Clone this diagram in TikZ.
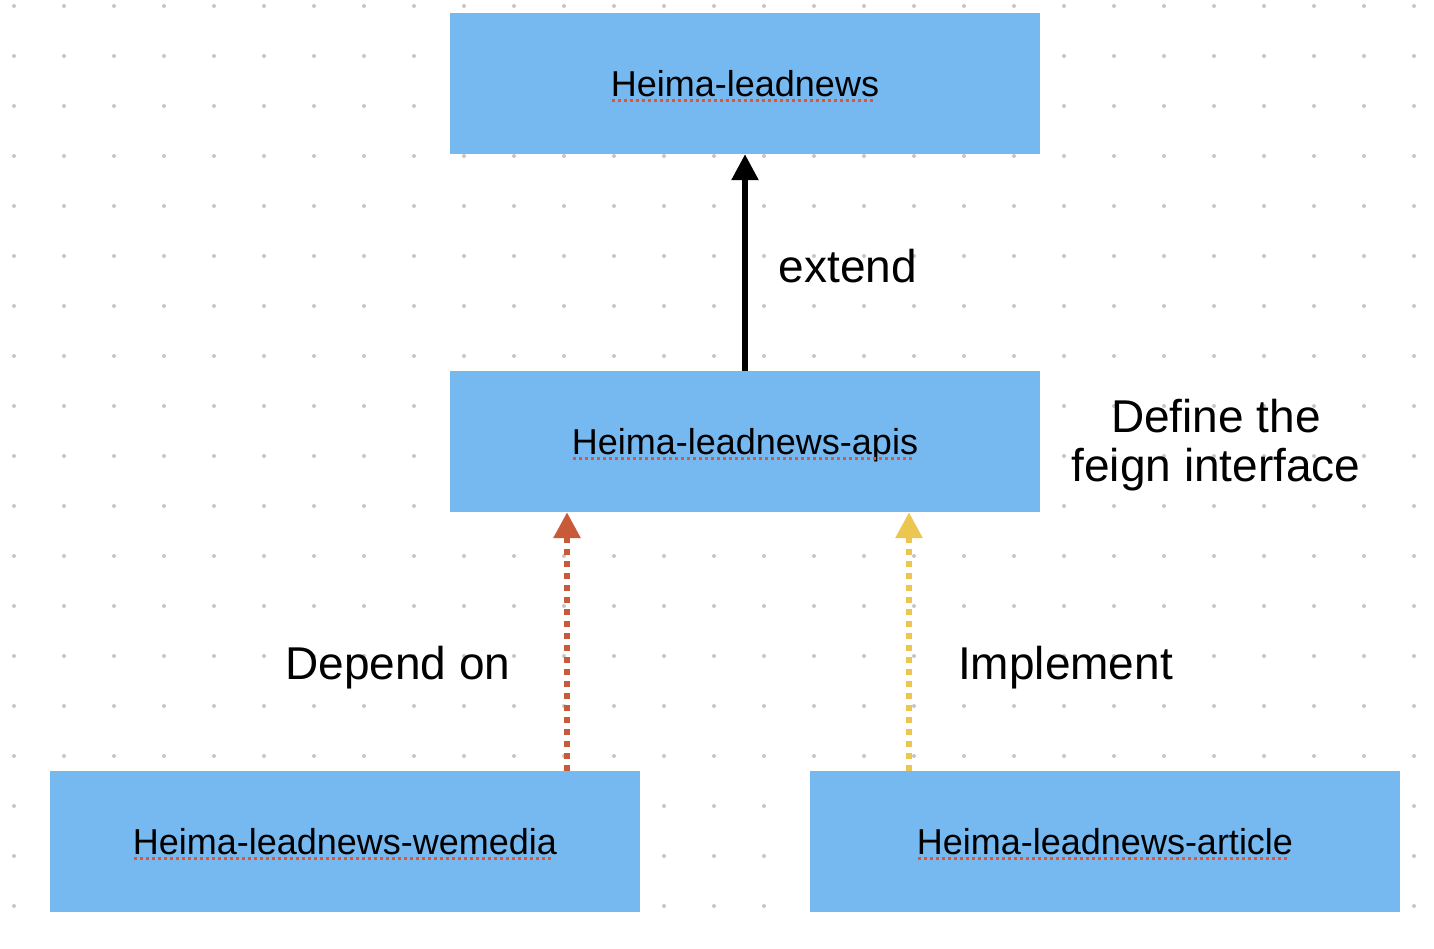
\documentclass[tikz,border=0pt]{standalone}
\usepackage{fontspec}
\setmainfont{Liberation Sans}
\usepackage{tikz}
\usetikzlibrary{arrows.meta}

\definecolor{boxblue}{HTML}{76B8F0}
\definecolor{depred}{HTML}{C85A3A}
\definecolor{implyellow}{HTML}{EBC751}
\definecolor{griddot}{HTML}{C6C6C6}
\definecolor{spellred}{HTML}{D9583B}

% red dotted mark under a word
\newcommand{\spellmark}[1]{\setbox0=\hbox{#1}\rlap{\copy0}%
  \raisebox{-5pt}{\hbox to \wd0{\color{spellred}\leaders\hbox to 6pt{\hss\rule{3pt}{3pt}\hss}\hfill}}}

\begin{document}
\begin{tikzpicture}[x=1pt, y=-1pt,
  module/.style = {shape=rectangle, fill=boxblue,
    minimum width=590pt, minimum height=141pt, inner sep=0pt,
    text height=26pt, text depth=0pt,
    font=\fontsize{36}{40}\selectfont},
  note/.style = {inner sep=0pt, align=center,
    font=\fontsize{46}{49}\selectfont},
  extline/.style = {line width=5.5pt, -{Triangle[length=26pt,width=26pt]}},
  depline/.style = {draw=depred, line width=6pt, dash pattern=on 6pt off 6pt,
    -{Triangle[length=26pt,width=26pt,fill=depred]}},
  implline/.style = {draw=implyellow, line width=6pt, dash pattern=on 6pt off 6pt,
    -{Triangle[length=26pt,width=26pt,fill=implyellow]}}]
  \useasboundingbox (0,0) rectangle (1434,948);
  \foreach \x in {14,64,...,1414}
    \foreach \y in {6,56,...,906}
      \fill[griddot] (\x,\y) circle (2pt);

  \node[module] (lead) at (745,83.5) {\spellmark{Heima-leadnews}};
  \node[module] (apis) at (745,441.5) {\spellmark{Heima-leadnews-apis}};
  \node[module] (wemedia) at (345,841.5) {\spellmark{Heima-leadnews-wemedia}};
  \node[module] (article) at (1105,841.5) {\spellmark{Heima-leadnews-article}};

  \coordinate (dep) at (567,0);
  \coordinate (impl) at (909,0);

  \draw[extline] (apis.north) -- (lead.south);
  \draw[depline] (wemedia.north -| dep) -- (apis.south -| dep);
  \draw[implline] (article.north -| impl) -- (apis.south -| impl);

  \node[note, anchor=base] (extlbl) at (848,282) {extend};
  \node[note] (feignlbl) at (1216,445) {Define the\\feign interface};
  \node[note, anchor=base] (deplbl) at (398,679) {Depend on};
  \node[note, anchor=base] (impllbl) at (1065.5,679) {Implement};
\end{tikzpicture}
\end{document}
